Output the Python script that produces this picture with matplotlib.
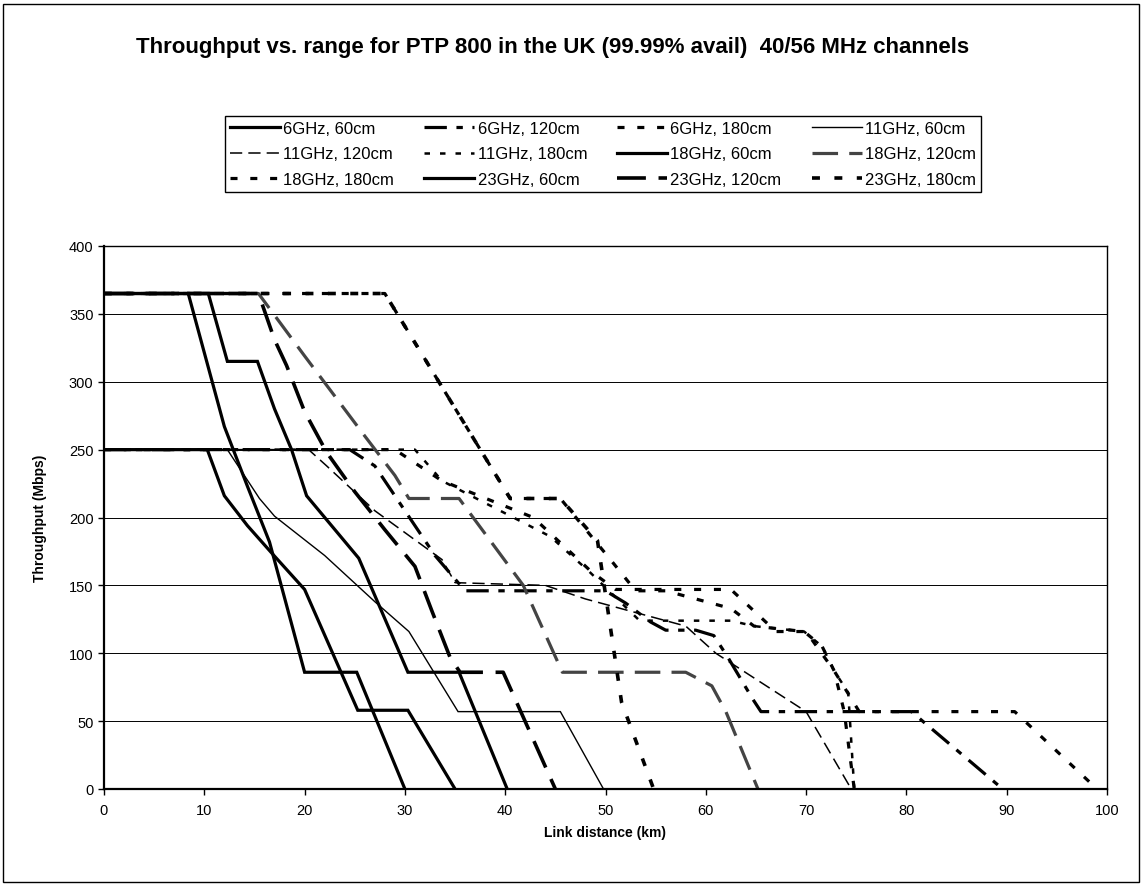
import numpy as np
import matplotlib
matplotlib.use("Agg")
import matplotlib.pyplot as plt
from matplotlib.patches import Rectangle

plt.rcParams["font.family"] = ["Liberation Sans", "DejaVu Sans"]

# link distance (km) / throughput (Mbps) for each band and dish size
d_6_60 = [0, 10.3, 12, 14.3, 16.7, 20, 25.3, 30.3, 35]
t_6_60 = [250, 250, 216, 194, 174, 147, 58, 58, 0]

d_6_120 = [0, 24.5, 27, 33, 36, 50, 52, 54.5, 56, 59, 60.8, 62.2, 64.7, 65.5, 80.5, 89.6]
t_6_120 = [250, 250, 238, 172, 146, 146, 137, 123, 117, 117, 113, 97, 66, 57, 57, 0]

d_6_180 = [0, 29, 33.7, 42.8, 48.6, 51, 62.5, 67, 70, 72.8, 75.3, 90.8, 99]
t_6_180 = [250, 250, 227, 200, 160, 147, 147, 116, 116, 87, 57, 57, 0]

d_11_60 = [0, 12.3, 15.5, 17, 22, 27, 30.4, 35.3, 45.5, 49.8]
t_11_60 = [250, 250, 214, 201, 172, 138, 116, 57, 57, 0]

d_11_120 = [0, 20.4, 22.2, 27, 33.7, 35, 44, 48, 58, 61, 70, 74.5]
t_11_120 = [250, 250, 238, 205, 169, 152, 150, 140, 120, 100, 57, 0]

d_11_180 = [0, 31, 33.7, 44.5, 48.4, 53.4, 62.5, 64.8, 69.8, 71.6, 72.8, 74.2, 74.8]
t_11_180 = [250, 250, 227, 186, 160, 124, 124, 120, 116, 105, 87, 71, 0]

d_18_60 = [0, 10.4, 12.3, 15.3, 17, 18.7, 20.2, 25.4, 30.3, 35.4, 40.2]
t_18_60 = [365, 365, 315, 315, 280, 250, 216, 170, 86, 86, 0]

d_18_120 = [0, 15.4, 20, 26, 29, 30.4, 35.4, 41.8, 45.7, 58, 60.6, 62, 65.2]
t_18_120 = [365, 365, 319, 260, 231, 214, 214, 150, 86, 86, 76, 57, 0]

d_18_180 = [0, 28, 40.5, 45.5, 50.6, 53, 56, 62.5, 64.8, 69.8, 71.6, 72.8, 73.8, 74.8]
t_18_180 = [365, 365, 214, 214, 168, 146, 146, 133, 120, 116, 105, 87, 57, 0]

d_23_60 = [0, 8.4, 12, 14.3, 16.5, 20, 25.2, 30]
t_23_60 = [365, 365, 267, 223, 182, 86, 86, 0]

d_23_120 = [0, 15.4, 17, 18.2, 20, 22.2, 25, 28, 31, 32.7, 34.5, 35.5, 39.8, 45]
t_23_120 = [365, 365, 331, 312, 278, 248, 219, 191, 164, 131, 97, 86, 86, 0]

d_23_180 = [0, 28, 40.5, 45.5, 49.2, 51.6, 54.8]
t_23_180 = [365, 365, 214, 214, 183, 64, 0]

labels = [
    "6GHz, 60cm", "6GHz, 120cm", "6GHz, 180cm",
    "11GHz, 60cm", "11GHz, 120cm", "11GHz, 180cm",
    "18GHz, 60cm", "18GHz, 120cm", "18GHz, 180cm",
    "23GHz, 60cm", "23GHz, 120cm", "23GHz, 180cm",
]
dists = [d_6_60, d_6_120, d_6_180, d_11_60, d_11_120, d_11_180,
         d_18_60, d_18_120, d_18_180, d_23_60, d_23_120, d_23_180]
thrs = [t_6_60, t_6_120, t_6_180, t_11_60, t_11_120, t_11_180,
        t_18_60, t_18_120, t_18_180, t_23_60, t_23_120, t_23_180]

# line looks (scan is black and white)
styles = [
    dict(color="black", lw=2.3, ls="-"),
    dict(color="black", lw=2.3, ls=(0, (7, 3, 2, 3))),
    dict(color="black", lw=2.3, ls=(0, (2.2, 4))),
    dict(color="black", lw=1.0, ls="-"),
    dict(color="black", lw=1.1, ls=(0, (8, 4))),
    dict(color="black", lw=1.8, ls=(0, (2.2, 4))),
    dict(color="black", lw=2.3, ls="-"),
    dict(color="#444444", lw=2.3, ls=(0, (8, 3.5))),
    dict(color="black", lw=2.3, ls=(0, (2.2, 4))),
    dict(color="black", lw=2.3, ls="-"),
    dict(color="black", lw=2.6, ls=(0, (8, 3.5))),
    dict(color="black", lw=2.6, ls=(0, (2.2, 4))),
]

fig = plt.figure(figsize=(11.41, 8.87), dpi=100)
ax = fig.add_axes([104 / 1141, 1 - 790 / 887, (1107 - 104) / 1141, (790 - 247) / 887])

handles = []
for d, t, lab, st in zip(dists, thrs, labels, styles):
    h, = ax.plot(d, t, label=lab, solid_joinstyle="miter", **st)
    handles.append(h)

ax.set_xlim(0, 100)
ax.set_ylim(0, 400)
ax.set_xticks(np.arange(0, 101, 10))
ax.set_yticks(np.arange(0, 401, 50))
ax.tick_params(labelsize=10.5, length=4, width=1, direction="out")
ax.tick_params(axis="x", pad=6)
ax.yaxis.grid(True, color="black", lw=0.7)
ax.set_axisbelow(True)
for s in ax.spines.values():
    s.set_linewidth(1.0)
ax.spines["left"].set_linewidth(1.6)
ax.spines["bottom"].set_linewidth(1.6)

fig.text(553 / 1141, 1 - 47 / 887,
         "Throughput vs. range for PTP 800 in the UK (99.99% avail)  40/56 MHz channels",
         ha="center", va="center", fontsize=16, fontweight="bold")
fig.text(40 / 1141, 1 - 518 / 887, "Throughput (Mbps)", rotation=90,
         ha="center", va="center", fontsize=10, fontweight="bold")
fig.text(605 / 1141, 1 - 833 / 887, "Link distance (km)",
         ha="center", va="center", fontsize=10, fontweight="bold")

# legend reads across the rows
order = [0, 4, 8, 1, 5, 9, 2, 6, 10, 3, 7, 11]
leg = fig.legend([handles[i] for i in order], [labels[i] for i in order],
                 ncol=4, loc="upper left", bbox_to_anchor=(225 / 1141, 1 - 117 / 887),
                 borderaxespad=0, fontsize=12, handlelength=3.0, handletextpad=0.2,
                 columnspacing=1.8, labelspacing=0.62, borderpad=0.3,
                 fancybox=False, framealpha=1, edgecolor="black")
leg.get_frame().set_linewidth(1.0)

fig.patches.append(Rectangle((3 / 1141, 4 / 887), 1136 / 1141, 878 / 887,
                             transform=fig.transFigure, fill=False,
                             edgecolor="black", lw=1.0))

plt.savefig("out.png", dpi=100)
